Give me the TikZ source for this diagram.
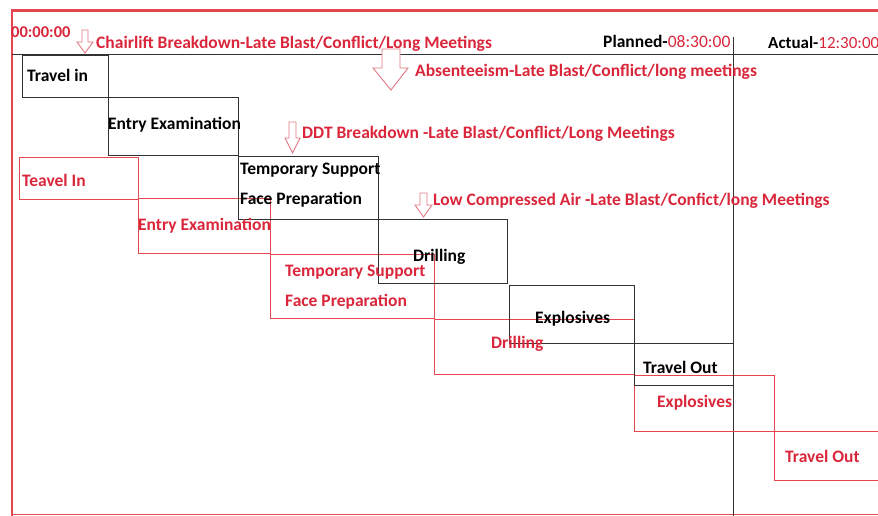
\documentclass[tikz,border=0pt]{standalone}
\usepackage{fontspec}
\setmainfont{Carlito}
\definecolor{txtred}{RGB}{218,38,58}
\definecolor{boxred}{RGB}{228,70,80}
\definecolor{arrred}{RGB}{225,120,130}
\definecolor{boxblk}{RGB}{50,50,50}
\begin{document}
\begin{tikzpicture}[x=1pt,y=-1pt,
  bbox/.style={draw=boxblk,line width=1.1pt,anchor=north west,inner sep=0pt},
  rbox/.style={draw=boxred,line width=0.9pt,anchor=north west,inner sep=0pt},
  btxt/.style={anchor=base west,inner sep=0pt,font=\fontsize{17.5}{19}\selectfont\bfseries,text=black},
  rtxt/.style={anchor=base west,inner sep=0pt,font=\fontsize{17.5}{19}\selectfont\bfseries,text=txtred},
  harrow/.style={draw=arrred,line width=0.9pt,fill=white,line join=miter}]
\useasboundingbox (0,0) rectangle (878,516);
% frame
\draw[draw=boxred,line width=3pt] (11,11) -- (878,11);
\draw[draw=boxred,line width=2.2pt] (12,11) -- (12,516);
\draw[draw=boxred,line width=0.8pt] (12,514) -- (878,514);
\draw[draw=boxblk,line width=1pt] (12,55) -- (878,55);
\coordinate (vtop) at (733,37);
\coordinate (vbot) at (733,516);
\draw[draw=boxblk,line width=1pt] (vtop) -- (vbot);
% red (actual) boxes
\node[rbox,minimum width=119pt,minimum height=42pt] (r1) at (19,157) {};
\node[rbox,minimum width=132pt,minimum height=55pt] (r2) at (138,198) {};
\node[rbox,minimum width=164pt,minimum height=64pt] (r3) at (270,254) {};
\node[rbox,minimum width=200pt,minimum height=55pt] (r4) at (434,319) {};
\node[rbox,minimum width=140pt,minimum height=56pt] (r5) at (634,375) {};
\node[rbox,minimum width=110pt,minimum height=49pt] (r6) at (774,431) {};
% black (planned) boxes
\node[bbox,minimum width=86pt,minimum height=42pt] (b1) at (22,55) {};
\node[bbox,minimum width=130pt,minimum height=58pt] (b2) at (108,97) {};
\node[bbox,minimum width=140pt,minimum height=63pt] (b3) at (238,156) {};
\node[bbox,minimum width=129pt,minimum height=64pt] (b4) at (378,219) {};
\node[bbox,minimum width=125pt,minimum height=58pt] (b5) at (509,285) {};
\node[bbox,minimum width=99pt,minimum height=42pt] (b6) at (634,343) {};
% hollow arrows
\draw[harrow] (82,30) -- (88,30) -- (88,42) -- (93,42) -- (85,53) -- (77,42) -- (82,42) -- cycle;
\draw[harrow] (382,49) -- (400,49) -- (400,68) -- (408,68) -- (391,90) -- (373,68) -- (382,68) -- cycle;
\draw[harrow] (289,122) -- (296,122) -- (296,138) -- (300,138) -- (292.5,153) -- (285,138) -- (289,138) -- cycle;
\draw[harrow] (420,193) -- (427,193) -- (427,205) -- (432,205) -- (423.5,217) -- (415,205) -- (420,205) -- cycle;
% header texts
\node[rtxt,font=\fontsize{16.5}{18}\selectfont\bfseries] (t0) at (11,38) {00:00:00};
\node[rtxt] (c1) at (96,49) {Chairlift Breakdown-Late Blast/Conflict/Long Meetings};
\node[btxt] (pl) at (603,48) {Planned-\textcolor{txtred}{\mdseries 08:30:00}};
\node[btxt,font=\fontsize{17}{19}\selectfont\bfseries] (ac) at (768,49) {Actual-\textcolor{txtred}{\mdseries 12:30:00}};
\node[rtxt] (c2) at (415,77) {Absenteeism-Late Blast/Conflict/long meetings};
\node[rtxt] (c3) at (302,139) {DDT Breakdown -Late Blast/Conflict/Long Meetings};
\node[rtxt] (c4) at (433,205) {Low Compressed Air -Late Blast/Confict/long Meetings};
% black box texts
\node[btxt] (bt1) at (27,82) {Travel in};
\node[btxt] (bt2) at (108,130) {Entry Examination};
\node[btxt] (bt3a) at (240,174) {Temporary Support};
\node[btxt] (bt3b) at (240,204) {Face Preparation};
\node[btxt] (bt4) at (413,261) {Drilling};
\node[btxt] (bt5) at (535,323) {Explosives};
\node[btxt] (bt6) at (643,373) {Travel Out};
% red box texts
\node[rtxt] (rt1) at (22,186) {Teavel In};
\node[rtxt] (rt2) at (138,230) {Entry Examination};
\node[rtxt] (rt3a) at (285,276) {Temporary Support};
\node[rtxt] (rt3b) at (285,306) {Face Preparation};
\node[rtxt] (rt4) at (491,348) {Drilling};
\node[rtxt] (rt5) at (657,407) {Explosives};
\node[rtxt] (rt6) at (785,462) {Travel Out};
\end{tikzpicture}
\end{document}
